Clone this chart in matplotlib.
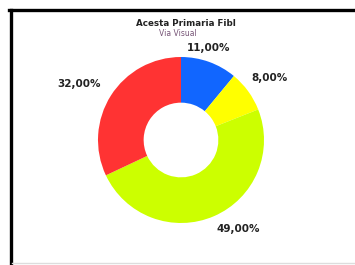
import matplotlib.pyplot as plt
from matplotlib.lines import Line2D

# Dados
categorias = ['A', 'B', 'C', 'D']
valores = [11, 8, 49, 32]
cores = ['#1166ff', '#ffff00', '#ccff00', '#ff3333']
titulo = 'Acesta Primaria Fibl'
subtitulo = 'Via Visual'

W, H = 355, 265
fig = plt.figure(figsize=(W / 100, H / 100), dpi=100)
fig.patch.set_facecolor('white')

# Moldura: linha esquerda e superior pretas, linha inferior cinza clara
fig.lines.append(Line2D([10.5 / W, 10.5 / W], [0, 1 - 10 / H], transform=fig.transFigure,
                        color='black', lw=2.4))
fig.lines.append(Line2D([9.3 / W, 1], [1 - 10 / H, 1 - 10 / H], transform=fig.transFigure,
                        color='black', lw=2.4))
fig.lines.append(Line2D([12 / W, 1], [2 / H, 2 / H], transform=fig.transFigure,
                        color='#dddddd', lw=1))

r = 83
ax = fig.add_axes([(181 - r) / W, (H - 140 - r) / H, 2 * r / W, 2 * r / H])
ax.pie(valores, colors=cores, startangle=90, counterclock=False,
       wedgeprops=dict(width=0.55, linewidth=0))
ax.set_xlim(-1, 1)
ax.set_ylim(-1, 1)
ax.set_aspect('equal')

# Rótulos de percentagem
posicoes = [(209, 48), (270, 78), (238, 229), (79, 84)]
for v, (x, y) in zip(valores, posicoes):
    fig.text(x / W, 1 - y / H, f'{v:.2f}%'.replace('.', ','), ha='center', va='center',
             fontsize=7.5, fontweight='bold', color='#222222')

fig.text(186 / W, 1 - 24 / H, titulo, ha='center', va='center', fontsize=6.3,
         fontweight='bold', color='#222222')
fig.text(178 / W, 1 - 34 / H, subtitulo, ha='center', va='center', fontsize=5.5,
         color='#775577')

fig.savefig('out.png', dpi=100)
